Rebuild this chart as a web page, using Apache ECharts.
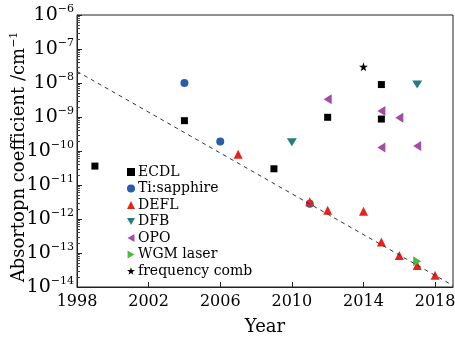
<!DOCTYPE html>
<html>
<head>
<meta charset="utf-8">
<script src="https://cdn.jsdelivr.net/npm/echarts@6/dist/echarts.min.js"></script>
<style>
html,body{margin:0;padding:0;background:#fff;}
#main{width:455px;height:338px;}
</style>
</head>
<body>
<div id="main"></div>
<script>
// data: [year, absorption coefficient]
let ecdl = [[1999, 3.6e-11], [2004, 7.8e-10], [2009, 3.0e-11], [2012, 9.8e-10], [2015, 9.0e-9], [2015, 8.7e-10]];
let tiSapphire = [[2004, 1.0e-8], [2006, 1.9e-10], [2011, 2.8e-12]];
let defl = [[2007, 8.0e-11], [2011, 3.2e-12], [2012, 1.8e-12], [2014, 1.7e-12], [2015, 2.1e-13], [2016, 8.5e-14], [2017, 4.3e-14], [2018, 2.2e-14]];
let dfb = [[2010, 1.8e-10], [2017, 9.0e-9]];
let opo = [[2012, 3.3e-9], [2015, 1.5e-9], [2016, 9.5e-10], [2015, 1.26e-10], [2017, 1.4e-10]];
let wgm = [[2017, 5.7e-14]];
let comb = [[2014, 3.0e-8]];
let trend = [[1998, 2.2e-8], [2019, 1.1e-14]];

let xTicks = [1998, 2002, 2006, 2010, 2014, 2018];
let yTicks = [1e-14, 1e-13, 1e-12, 1e-11, 1e-10, 1e-9, 1e-8, 1e-7, 1e-6];

// minor log ticks 2..9 in each decade (axis decoration only)
let yMinor = [];
for (let n = -14; n < -6; n++) {
    for (let k = 2; k <= 9; k++) {
        yMinor.push(k * Math.pow(10, n));
    }
}

let serif = 'DejaVu Serif';
let plotW = 455 - 77 - 2;
let triDown = 'path://M0,0 L10,0 L5,8.66 Z';
let triLeft = 'path://M8.66,0 L8.66,10 L0,5 Z';
let triRight = 'path://M0,0 L0,10 L8.66,5 Z';
let star = 'path://M5,0 L6.18,3.62 L10,3.62 L6.91,5.85 L8.09,9.47 L5,7.24 L1.91,9.47 L3.09,5.85 L0,3.62 L3.82,3.62 Z';

function supLabel(v) {
    let e = Math.round(Math.log10(v));
    return '{b|10}{s|' + (e < 0 ? '\u2212' + (-e) : e) + '}';
}

let chart = echarts.init(document.getElementById('main'));
let option = {
    animation: false,
    grid: {left: 77, right: 2, top: 15, bottom: 51, show: true, borderColor: '#222', borderWidth: 1,
        outerBoundsMode: 'none', containLabel: false},
    legend: {
        orient: 'vertical',
        left: 122,
        top: 160,
        itemWidth: 8,
        itemHeight: 8,
        itemGap: 2.5,
        textStyle: {fontFamily: serif, fontSize: 14, color: '#000', padding: [0, 0, 0, -2]},
        data: [
            {name: 'ECDL', icon: 'rect'},
            {name: 'Ti:sapphire', icon: 'circle'},
            {name: 'DEFL', icon: 'triangle'},
            {name: 'DFB', icon: triDown},
            {name: 'OPO', icon: triLeft},
            {name: 'WGM laser', icon: triRight},
            {name: 'frequency comb', icon: star}
        ]
    },
    xAxis: {
        type: 'value',
        min: 1998,
        max: 2019,
        name: 'Year',
        nameLocation: 'middle',
        nameGap: 31,
        nameMoveOverlap: false,
        nameTextStyle: {fontFamily: serif, fontSize: 18, color: '#000'},
        axisLine: {lineStyle: {color: '#222', width: 1}},
        axisTick: {inside: true, length: 5, customValues: xTicks, lineStyle: {color: '#222'}},
        axisLabel: {customValues: xTicks, fontFamily: serif, fontSize: 16, color: '#000', margin: 7,
            formatter: function (v) { return String(v); }},
        splitLine: {show: false}
    },
    yAxis: [{
        type: 'log',
        logBase: 10,
        min: 1e-14,
        max: 1e-6,
        name: 'Absortopn coefficient /cm{s|\u22121}',
        nameLocation: 'middle',
        nameGap: 48,
        nameMoveOverlap: false,
        nameTextStyle: {fontFamily: serif, fontSize: 18, color: '#000', padding: [0, 12, 0, 0],
            rich: {s: {fontFamily: serif, fontSize: 11, color: '#000', padding: [0, 0, 9, 0]}}},
        axisLine: {lineStyle: {color: '#222', width: 1}},
        axisTick: {inside: true, length: 5, customValues: yTicks, lineStyle: {color: '#222'}},
        axisLabel: {
            customValues: yTicks,
            margin: 3,
            formatter: supLabel,
            rich: {
                b: {fontFamily: serif, fontSize: 19, color: '#000'},
                s: {fontFamily: serif, fontSize: 11, color: '#000', padding: [0, 0, 12, 0]}
            }
        },
        splitLine: {show: false}
    }, {
        // minor ticks: a second log axis moved onto the left edge
        type: 'log',
        logBase: 10,
        min: 1e-14,
        max: 1e-6,
        position: 'right',
        offset: -plotW,
        axisLine: {show: false},
        axisTick: {inside: false, length: 3, customValues: yMinor, lineStyle: {color: '#444'}},
        axisLabel: {show: false},
        splitLine: {show: false}
    }],
    series: [
        {name: 'trend', type: 'line', data: trend, showSymbol: false, silent: true,
            lineStyle: {type: [4, 4], color: '#333', width: 1}},
        {name: 'ECDL', type: 'scatter', data: ecdl, symbol: 'rect', symbolSize: 7, itemStyle: {color: '#000', opacity: 1}},
        {name: 'Ti:sapphire', type: 'scatter', data: tiSapphire, symbol: 'circle', symbolSize: 8, itemStyle: {color: '#2a5caa', opacity: 1}},
        {name: 'DEFL', type: 'scatter', data: defl, symbol: 'triangle', symbolSize: 9, itemStyle: {color: '#e8231c', opacity: 1}},
        {name: 'DFB', type: 'scatter', data: dfb, symbol: triDown, symbolSize: [10, 8], itemStyle: {color: '#2a7c7c', opacity: 1}},
        {name: 'OPO', type: 'scatter', data: opo, symbol: triLeft, symbolSize: [8, 10], itemStyle: {color: '#a34ca3', opacity: 1}},
        {name: 'WGM laser', type: 'scatter', data: wgm, symbol: triRight, symbolSize: [8, 10], itemStyle: {color: '#4fb843', opacity: 1}},
        {name: 'frequency comb', type: 'scatter', data: comb, symbol: star, symbolSize: 9, itemStyle: {color: '#000', opacity: 1}}
    ]
};
chart.setOption(option);
</script>
</body>
</html>
